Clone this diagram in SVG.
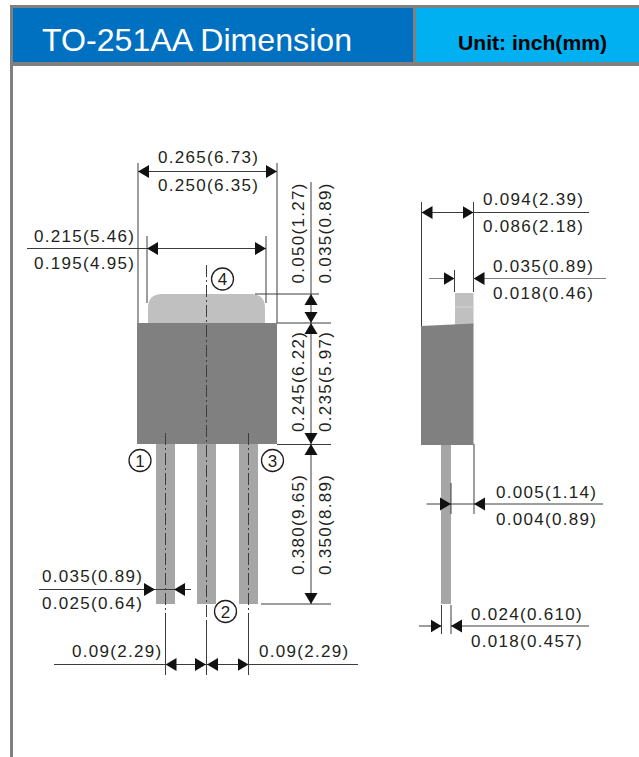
<svg xmlns="http://www.w3.org/2000/svg" width="639" height="757" viewBox="0 0 639 757">
<style>
.t{font-family:"Liberation Sans",Arial,sans-serif;font-size:17px;letter-spacing:1.3px;fill:#231f20}
.n{font-family:"Liberation Sans",Arial,sans-serif;font-size:17px;fill:#231f20;text-anchor:middle}
.l{stroke:#3c3c3c;stroke-width:1;fill:none}
.g{stroke:#808080;stroke-width:1;fill:none}
.a{marker-end:url(#arrow)}
.d{stroke:#3c3c3c;stroke-width:1;fill:none;stroke-dasharray:12 3 2 3}
.c{fill:#fff;stroke:#231f20;stroke-width:1.3}
</style>
<defs>
<marker id="arrow" markerUnits="userSpaceOnUse" markerWidth="11" markerHeight="14" viewBox="0 0 11 14" refX="11" refY="7" orient="auto"><path d="M0 0.500L11 7L0 13.500Z" fill="#111"/></marker>
</defs>
<rect width="639" height="757" fill="#fff"/>
<g id="frame">
<rect x="10" y="5" width="629" height="61" fill="#808080"/>
<rect x="10" y="5" width="3" height="752" fill="#808080"/>
<rect x="13" y="8" width="400" height="54" fill="#0070c0"/>
<rect x="416" y="8" width="223" height="54" fill="#00b0f0"/>
<text x="42" y="51" font-family="Liberation Sans,Arial,sans-serif" font-size="32" fill="#fff" textLength="310" lengthAdjust="spacingAndGlyphs">TO-251AA Dimension</text>
<text x="458" y="50" font-family="Liberation Sans,Arial,sans-serif" font-size="21" font-weight="bold" fill="#000" textLength="149" lengthAdjust="spacingAndGlyphs">Unit: inch(mm)</text>
</g>
<g id="front-view">
<path d="M148 323V308Q148 294 162 294H251Q265 294 265 308V323Z" fill="#c0c0c0"/>
<rect x="156" y="444" width="19" height="160" fill="#a6a6a6"/>
<rect x="197" y="444" width="19" height="160" fill="#a6a6a6"/>
<rect x="239" y="444" width="19" height="160" fill="#a6a6a6"/>
<rect x="137" y="323" width="140" height="121" fill="#808080"/>
</g>
<g id="side-view">
<rect x="455" y="293" width="18.500" height="32" fill="#c0c0c0"/>
<line x1="455" y1="307" x2="473.500" y2="307" stroke="#d8d8d8"/>
<rect x="441" y="444" width="10" height="160" fill="#a6a6a6"/>
<path d="M421 326L473.500 323.500V445H421Z" fill="#808080"/>
</g>
<g id="connectors">
<line class="d" x1="206.500" y1="265" x2="206.500" y2="622"/>
<line class="d" x1="165.500" y1="433" x2="165.500" y2="622"/>
<line class="d" x1="248.500" y1="433" x2="248.500" y2="622"/>
<path class="l" d="M165.500 622V675M248.500 622V675M206.500 622V675"/>
<path class="l" d="M138 163V323M277 163V323M147 236V303M266 236V303M255 294H319M277 323H331M277 444.500H331M261 604H331"/>
<line class="l a" x1="200" y1="171.500" x2="138" y2="171.500"/>
<line class="l a" x1="200" y1="171.500" x2="277" y2="171.500"/>
<line class="l a" x1="200" y1="248.500" x2="147" y2="248.500"/>
<line class="l a" x1="200" y1="248.500" x2="266" y2="248.500"/>
<line class="l" x1="27" y1="248.500" x2="147" y2="248.500"/>
<path class="l" d="M311 182V294"/>
<line class="l a" x1="311" y1="310" x2="311" y2="294"/>
<line class="l a" x1="311" y1="310" x2="311" y2="323"/>
<line class="l a" x1="311" y1="380" x2="311" y2="323"/>
<line class="l a" x1="311" y1="380" x2="311" y2="444"/>
<line class="l a" x1="311" y1="520" x2="311" y2="444"/>
<line class="l a" x1="311" y1="520" x2="311" y2="604"/>
<line class="l a" x1="39" y1="589.500" x2="155" y2="589.500"/>
<line class="l a" x1="191" y1="589.500" x2="174" y2="589.500"/>
<line class="l" x1="155" y1="589.500" x2="174" y2="589.500"/>
<line class="l a" x1="186" y1="664.500" x2="165.500" y2="664.500"/>
<line class="l a" x1="186" y1="664.500" x2="206" y2="664.500"/>
<line class="l a" x1="228" y1="664.500" x2="207" y2="664.500"/>
<line class="l a" x1="228" y1="664.500" x2="248.500" y2="664.500"/>
<path class="l" d="M54 664.500H165.500M248.500 664.500H358"/>
<path class="l" d="M421.500 202V326M473.500 202V292M454.500 270V292"/>
<line class="l a" x1="450" y1="212.500" x2="421.500" y2="212.500"/>
<line class="l a" x1="450" y1="212.500" x2="473.500" y2="212.500"/>
<line class="l" x1="473.500" y1="212.500" x2="589" y2="212.500"/>
<line class="g a" x1="429" y1="278.500" x2="454.500" y2="278.500"/>
<line class="g a" x1="606" y1="278.500" x2="473.500" y2="278.500"/>
<path class="l" d="M474 444V514M451 483V514"/>
<line class="l a" x1="426.500" y1="504" x2="451" y2="504"/>
<line class="l a" x1="603" y1="504" x2="474" y2="504"/>
<line class="l" x1="451" y1="504" x2="474" y2="504"/>
<path class="l" d="M441.500 605V634M451 605V634"/>
<line class="l a" x1="419" y1="626" x2="441.500" y2="626"/>
<line class="l a" x1="589" y1="626" x2="451" y2="626"/>
</g>
<g id="pin-1"><circle class="c" cx="140" cy="460.500" r="11"/><text class="n" x="140" y="466.500">1</text></g>
<g id="pin-2"><circle class="c" cx="225.500" cy="611.500" r="11"/><text class="n" x="225.500" y="617.500">2</text></g>
<g id="pin-3"><circle class="c" cx="272.500" cy="460.500" r="11"/><text class="n" x="272.500" y="466.500">3</text></g>
<g id="pin-4"><circle class="c" cx="222.500" cy="279" r="11"/><text class="n" x="222.500" y="285">4</text></g>
<g id="labels">
<text class="t" x="158" y="163">0.265(6.73)</text>
<text class="t" x="158" y="191">0.250(6.35)</text>
<text class="t" x="34" y="241.500">0.215(5.46)</text>
<text class="t" x="34" y="269">0.195(4.95)</text>
<text class="t" x="483" y="205">0.094(2.39)</text>
<text class="t" x="483" y="232">0.086(2.18)</text>
<text class="t" x="493" y="271.500">0.035(0.89)</text>
<text class="t" x="493" y="299">0.018(0.46)</text>
<text class="t" x="496" y="498">0.005(1.14)</text>
<text class="t" x="496" y="525">0.004(0.89)</text>
<text class="t" x="471" y="620">0.024(0.610)</text>
<text class="t" x="471" y="647">0.018(0.457)</text>
<text class="t" x="42" y="581.500">0.035(0.89)</text>
<text class="t" x="42" y="609">0.025(0.64)</text>
<text class="t" x="72" y="657">0.09(2.29)</text>
<text class="t" x="259" y="657">0.09(2.29)</text>
<text class="t" transform="translate(303.500 283.500) rotate(-90)">0.050(1.27)</text>
<text class="t" transform="translate(331 283.500) rotate(-90)">0.035(0.89)</text>
<text class="t" transform="translate(303.500 432) rotate(-90)">0.245(6.22)</text>
<text class="t" transform="translate(331 432) rotate(-90)">0.235(5.97)</text>
<text class="t" transform="translate(303.500 575) rotate(-90)">0.380(9.65)</text>
<text class="t" transform="translate(331 575) rotate(-90)">0.350(8.89)</text>
</g>
</svg>
